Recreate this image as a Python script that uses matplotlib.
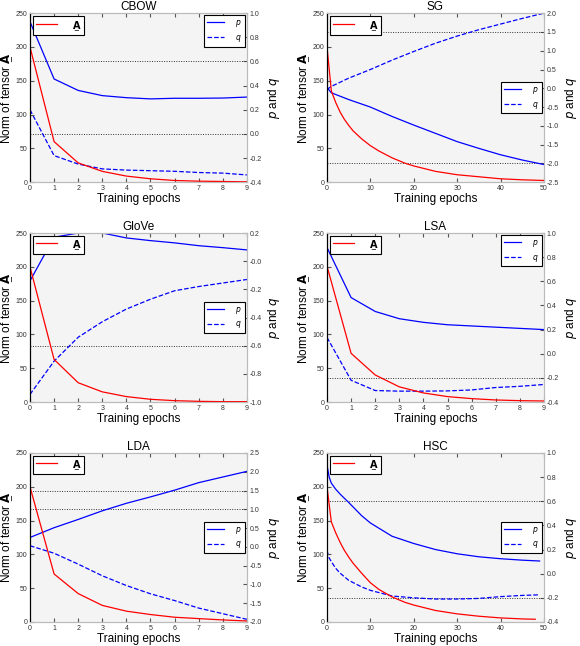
import numpy as np
import matplotlib
matplotlib.use("Agg")
import matplotlib.pyplot as plt

plt.rcParams["font.family"] = ["Liberation Sans", "DejaVu Sans"]

# epochs for the short runs
ep10 = np.arange(10)

# CBOW
cbow_A = [200, 60, 28.5, 16, 9, 5, 2.5, 1.5, 1, 0.5]
cbow_p = [0.93, 0.455, 0.36, 0.317, 0.30, 0.29, 0.295, 0.295, 0.297, 0.305]
cbow_q = [0.20, -0.18, -0.25, -0.29, -0.30, -0.305, -0.31, -0.32, -0.325, -0.34]
cbow_ref = [0.6, 0.0]

# SG
sg_epA = [0, 1, 2, 3, 4, 5, 6, 8, 10, 12, 15, 18, 20, 25, 30, 35, 40, 45, 50]
sg_A = [200, 135, 118, 104, 93, 84, 76, 64, 54, 46, 36, 28, 24, 16, 11, 8, 5, 3.5, 2.5]
sg_ep = [0, 1, 5, 10, 15, 20, 25, 30, 35, 40, 45, 50]
sg_p = [0.02, -0.12, -0.30, -0.50, -0.75, -0.98, -1.20, -1.42, -1.60, -1.77, -1.91, -2.03]
sg_q = [-0.03, 0.05, 0.27, 0.50, 0.75, 0.98, 1.20, 1.39, 1.56, 1.71, 1.86, 2.00]
sg_ref = [1.5, -2.0]

# GloVe
glove_A = [200, 63, 28.5, 15, 8, 4, 2, 1, 0.5, 0.5]
glove_p = [-0.14, 0.17, 0.20, 0.20, 0.165, 0.146, 0.13, 0.11, 0.096, 0.08]
glove_q = [-0.946, -0.71, -0.54, -0.43, -0.34, -0.27, -0.21, -0.18, -0.155, -0.13]
glove_ref = [-0.6]

# LSA
lsa_A = [201, 72, 40, 22.4, 13.4, 8, 5, 3, 2, 1.5]
lsa_p = [0.88, 0.465, 0.35, 0.29, 0.26, 0.24, 0.23, 0.22, 0.21, 0.20]
lsa_q = [0.135, -0.22, -0.305, -0.31, -0.31, -0.308, -0.30, -0.28, -0.27, -0.255]
lsa_ref = [-0.2]

# LDA
lda_A = [200, 71, 42, 24.5, 16, 11, 7, 5, 3, 1.5]
lda_p = [0.25, 0.51, 0.73, 0.96, 1.16, 1.33, 1.51, 1.71, 1.86, 2.01]
lda_q = [0.03, -0.17, -0.46, -0.77, -1.03, -1.25, -1.43, -1.63, -1.78, -1.93]
lda_ref = [1.5, 1.0]

# HSC
hsc_epA = [0, 1, 2, 3, 4, 5, 6, 8, 10, 12, 15, 18, 20, 25, 30, 35, 40, 45, 48]
hsc_A = [200, 148, 132, 118, 106, 96, 87, 72, 58, 48, 37, 29, 25, 17, 12, 8.5, 6, 4.5, 4]
hsc_ep = [0, 0.5, 1, 2, 3, 5, 8, 10, 15, 20, 25, 30, 35, 40, 45, 49]
hsc_p = [0.90, 0.80, 0.75, 0.70, 0.66, 0.59, 0.48, 0.42, 0.31, 0.25, 0.20, 0.165, 0.14, 0.124, 0.112, 0.105]
hsc_q = [0.19, 0.13, 0.10, 0.045, 0.005, -0.055, -0.11, -0.138, -0.185, -0.20, -0.21, -0.21, -0.205, -0.19, -0.18, -0.175]
hsc_ref = [0.6, -0.2]

panels = [
    dict(title="CBOW", epA=ep10, A=cbow_A, ep=ep10, p=cbow_p, q=cbow_q, ref=cbow_ref,
         xlim=(0, 9), xticks=range(10), ylim2=(-0.4, 1.0), step=0.2, loc="upper right"),
    dict(title="SG", epA=sg_epA, A=sg_A, ep=sg_ep, p=sg_p, q=sg_q, ref=sg_ref,
         xlim=(0, 50), xticks=range(0, 51, 10), ylim2=(-2.5, 2.0), step=0.5, loc="center right"),
    dict(title="GloVe", epA=ep10, A=glove_A, ep=ep10, p=glove_p, q=glove_q, ref=glove_ref,
         xlim=(0, 9), xticks=range(10), ylim2=(-1.0, 0.2), step=0.2, loc="center right"),
    dict(title="LSA", epA=ep10, A=lsa_A, ep=ep10, p=lsa_p, q=lsa_q, ref=lsa_ref,
         xlim=(0, 9), xticks=range(10), ylim2=(-0.4, 1.0), step=0.2, loc="upper right"),
    dict(title="LDA", epA=ep10, A=lda_A, ep=ep10, p=lda_p, q=lda_q, ref=lda_ref,
         xlim=(0, 9), xticks=range(10), ylim2=(-2.0, 2.5), step=0.5, loc="center right"),
    dict(title="HSC", epA=hsc_epA, A=hsc_A, ep=hsc_ep, p=hsc_p, q=hsc_q, ref=hsc_ref,
         xlim=(0, 50), xticks=range(0, 51, 10), ylim2=(-0.4, 1.0), step=0.2, loc="center right"),
]

# axes boxes in figure fractions (left, bottom, width, height)
lefts = [0.0517, 0.5638]
bottoms = [0.718, 0.3777, 0.0372]
w, h = 0.374, 0.2616

# tensor symbol: bold A with a bar underneath
Atex = r"$\underset{-}{\mathbf{A}}$"

fig = plt.figure(figsize=(5.8, 6.46), dpi=100)

for i, pn in enumerate(panels):
    ax = fig.add_axes([lefts[i % 2], bottoms[i // 2], w, h])
    ax2 = ax.twinx()

    for r in pn["ref"]:
        ax2.axhline(r, color="#333333", ls=(0, (1, 1.5)), lw=0.7)
    l1, = ax.plot(pn["epA"], pn["A"], color="red", lw=0.9, label=Atex)
    ax.set_zorder(ax2.get_zorder() + 1)
    ax.patch.set_visible(False)
    ax2.patch.set_visible(True)
    ax2.patch.set_facecolor("#f4f4f4")
    lp, = ax2.plot(pn["ep"], pn["p"], color="blue", lw=0.9, label="$p$")
    lq, = ax2.plot(pn["ep"], pn["q"], color="blue", lw=0.9, ls="--", label="$q$")

    ax.set_xlim(*pn["xlim"])
    ax.set_xticks(list(pn["xticks"]))
    ax.set_ylim(0, 250)
    ax.set_yticks(range(0, 251, 50))
    lo, hi = pn["ylim2"]
    ax2.set_ylim(lo, hi)
    ax2.set_yticks(np.round(np.arange(lo, hi + 1e-9, pn["step"]), 2))
    ax2.yaxis.set_major_formatter(matplotlib.ticker.FormatStrFormatter("%.1f"))

    ax.tick_params(direction="in", labelsize=5, length=3, top=True, color="#555555",
                   labelcolor="#333333", pad=2)
    ax2.tick_params(direction="in", labelsize=5, length=3, color="#555555",
                    labelcolor="#333333", pad=2)

    for a in (ax, ax2):
        for s in ("top", "right", "bottom"):
            a.spines[s].set_color("#bbbbbb")
        a.spines["left"].set_color("black")

    ax.set_title(pn["title"], fontsize=8.5, pad=2)
    ax.set_xlabel("Training epochs", fontsize=8.5, labelpad=1)
    ax.set_ylabel("Norm of tensor " + Atex, fontsize=8.5, labelpad=2)
    ax2.set_ylabel("$p$ and $q$", fontsize=8.5, labelpad=3)

    leg1 = ax.legend(handles=[l1], loc="upper left", fontsize=7, fancybox=False,
                     edgecolor="black", framealpha=1, handlelength=2.2, borderpad=0.3,
                     handletextpad=1.5, borderaxespad=0.3)
    leg1.get_frame().set_linewidth(0.8)
    leg2 = ax.legend(handles=[lp, lq], loc=pn["loc"], fontsize=5.5, fancybox=False,
                     edgecolor="black", framealpha=1, handlelength=2.2, borderpad=0.35,
                     handletextpad=1.5, borderaxespad=0.3)
    leg2.get_frame().set_linewidth(0.8)
    ax.add_artist(leg1)

fig.savefig("out.png", dpi=100)
